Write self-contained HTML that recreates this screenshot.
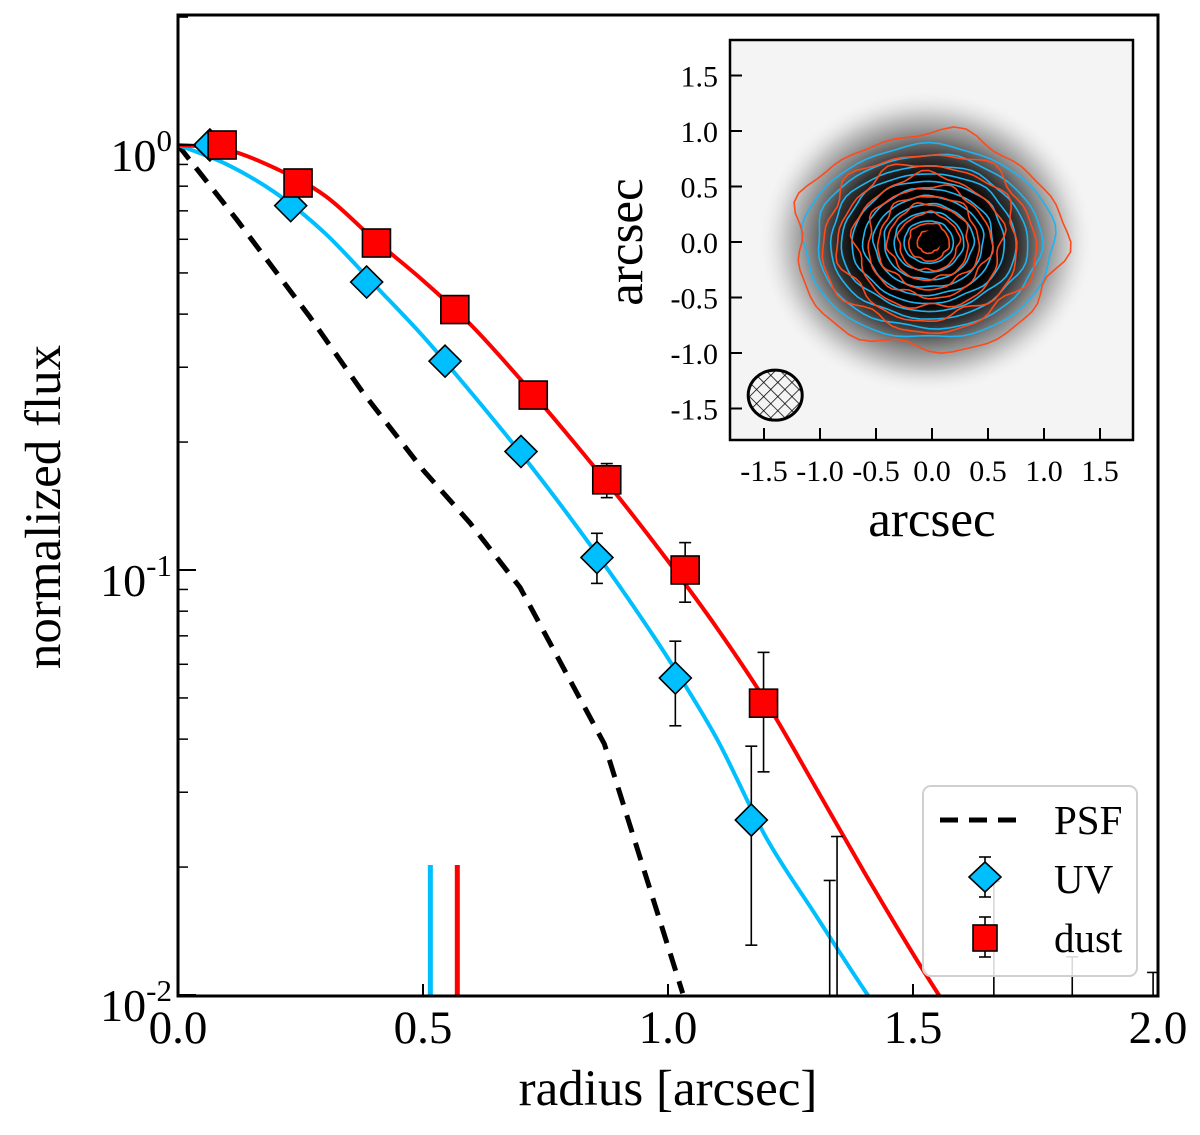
<!DOCTYPE html>
<html><head><meta charset="utf-8"><style>
html,body{margin:0;padding:0;background:#fff}
svg{display:block;font-family:"Liberation Serif",serif}
</style></head><body>
<svg id="chart" width="1200" height="1135" viewBox="0 0 1200 1135">
<defs>
<clipPath id="mainClip"><rect x="178" y="15" width="980" height="981"/></clipPath>
<clipPath id="insetClip"><rect x="730" y="40" width="403" height="400"/></clipPath>
<radialGradient id="blob" cx="0.5" cy="0.5" r="0.5">
<stop offset="0" stop-color="#000"/><stop offset="0.4" stop-color="#000"/>
<stop offset="0.55" stop-color="#333"/><stop offset="0.7" stop-color="#888"/>
<stop offset="0.85" stop-color="#cfcfcf"/>
<stop offset="1" stop-color="#f4f4f4" stop-opacity="0"/></radialGradient>
<pattern id="hatch" width="10" height="10" patternUnits="userSpaceOnUse" patternTransform="rotate(45)">
<path d="M0 0H10M0 0V10" stroke="#000" stroke-width="1.5"/></pattern>
</defs>
<g id="main"></g>
<g id="inset"></g>
</svg>
<script>
// ---- data ----
const uvR = [0.065,0.23,0.385,0.545,0.70,0.855,1.015,1.17];
const uvF = [1.0,0.72,0.476,0.31,0.19,0.107,0.0557,0.0258];
const uvLo = [1.0,0.72,0.476,0.31,0.19,0.093,0.043,0.0131];
const uvHi = [1.0,0.72,0.476,0.31,0.19,0.122,0.068,0.0385];
const dustR = [0.09,0.245,0.405,0.565,0.725,0.875,1.035,1.195];
const dustF = [1.0,0.814,0.588,0.41,0.258,0.163,0.1,0.0486];
const dustLo = [1.0,0.814,0.588,0.41,0.258,0.148,0.084,0.0335];
const dustHi = [1.0,0.814,0.588,0.41,0.258,0.178,0.116,0.064];
const extraR = [1.33,1.345,1.665,1.825,1.99];
const extraHi = [0.0186,0.0236,0.0185,0.0123,0.0113];
const psfR = [0,0.12,0.269,0.378,0.5,0.596,0.698,0.87,1.03];
const psfF = [1.0,0.667,0.394,0.261,0.172,0.129,0.091,0.039,0.0101];
const redR = [0,0.1,0.2,0.3,0.4,0.5,0.6,0.7,0.8,0.9,1.0,1.1,1.2,1.3,1.4,1.5,1.56];
const redF = [1,0.975,0.88,0.76,0.6,0.48,0.375,0.28,0.205,0.148,0.105,0.073,0.049,0.031,0.0195,0.0125,0.0097];
const blueR = [0,0.1,0.2,0.3,0.4,0.5,0.6,0.7,0.8,0.9,1.0,1.1,1.2,1.3,1.4,1.44];
const blueF = [1,0.9,0.77,0.62,0.47,0.355,0.26,0.188,0.133,0.092,0.062,0.040,0.0235,0.0155,0.0103,0.0089];
const halfR = [0.515,0.57];
const xTicks = [0,0.5,1.0,1.5,2.0];
const xTickLabels = ["0.0","0.5","1.0","1.5","2.0"];
const insetTicks = [-1.5,-1.0,-0.5,0,0.5,1.0,1.5];
const insetTickLabels = ["-1.5","-1.0","-0.5","0.0","0.5","1.0","1.5"];

const NS="http://www.w3.org/2000/svg";
function mk(parent,tag,attrs,txt){const e=document.createElementNS(NS,tag);for(const k in attrs)e.setAttribute(k,attrs[k]);if(txt!==undefined)e.textContent=txt;parent.appendChild(e);return e;}
const X = r => 178 + r*490;
const Y = f => 145 - Math.log10(f)*425;
const main=document.getElementById('main');
const plot=mk(main,'g',{'clip-path':'url(#mainClip)'});



function smoothPath(pts){
  let d='M'+pts[0][0].toFixed(1)+' '+pts[0][1].toFixed(1);
  for(let i=0;i<pts.length-1;i++){
    const p0=pts[Math.max(i-1,0)],p1=pts[i],p2=pts[i+1],p3=pts[Math.min(i+2,pts.length-1)];
    const c1=[p1[0]+(p2[0]-p0[0])/6,p1[1]+(p2[1]-p0[1])/6];
    const c2=[p2[0]-(p3[0]-p1[0])/6,p2[1]-(p3[1]-p1[1])/6];
    d+='C'+c1.map(v=>v.toFixed(1)).join(' ')+' '+c2.map(v=>v.toFixed(1)).join(' ')+' '+p2.map(v=>v.toFixed(1)).join(' ');
  }
  return d;
}
function line(rs,fs,attrs,name,smooth){
  const pts=rs.map((r,i)=>[X(r),Y(fs[i])]);
  const d=smooth?smoothPath(pts):pts.map((p,i)=>(i?'L':'M')+p[0].toFixed(1)+' '+p[1].toFixed(1)).join('');
  const p=mk(plot,'path',Object.assign({d:d,fill:'none'},attrs));
  
  
}
line(psfR,psfF,{stroke:'#000','stroke-width':5,'stroke-dasharray':'18 11'},'psf-line',false);
line(blueR,blueF,{stroke:'#00bfff','stroke-width':4},'uv-model-curve',true);
line(redR,redF,{stroke:'#ff0000','stroke-width':4},'dust-model-curve',true);

halfR.forEach((r,i)=>{
  const l=mk(plot,'line',{x1:X(r),x2:X(r),y1:865,y2:997,stroke:i?'#ff0000':'#00bfff','stroke-width':5});
  
  
});

function errbar(x,lo,hi,name){
  const g=mk(plot,'g',{stroke:'#000','stroke-width':1.6});
  
  
  const yl=Math.min(Y(lo),1010), yh=Y(hi);
  mk(g,'line',{x1:x,x2:x,y1:yl,y2:yh});
  mk(g,'line',{x1:x-6,x2:x+6,y1:yh,y2:yh});
  if(Y(lo)<996) mk(g,'line',{x1:x-6,x2:x+6,y1:yl,y2:yl});
}
extraR.forEach((r,i)=>errbar(X(r),0.001,extraHi[i],'upper-error-bar'));
uvR.forEach((r,i)=>{ if(uvHi[i]>uvF[i]) errbar(X(r),uvLo[i],uvHi[i],'uv-error-bar');});
dustR.forEach((r,i)=>{ if(dustHi[i]>dustF[i]) errbar(X(r),dustLo[i],dustHi[i],'dust-error-bar');});
uvR.forEach((r,i)=>{
  const x=X(r),y=Y(uvF[i]),s=16;
  const p=mk(plot,'polygon',{points:`${x},${y-s} ${x+s},${y} ${x},${y+s} ${x-s},${y}`,fill:'#00bfff',stroke:'#000','stroke-width':1.6});
  
  
});
dustR.forEach((r,i)=>{
  const x=X(r),y=Y(dustF[i]),s=14;
  const p=mk(plot,'rect',{x:x-s,y:y-s,width:2*s,height:2*s,fill:'#ff0000',stroke:'#000','stroke-width':1.6});
  
  
});

const frame=mk(main,'rect',{x:178,y:15,width:980,height:981,fill:'none',stroke:'#000','stroke-width':3});


const xa=mk(main,'g',{});


xTicks.forEach((t,i)=>{
  mk(xa,'line',{x1:X(t),x2:X(t),y1:996,y2:984,stroke:'#000','stroke-width':2});
  const tx=mk(xa,'text',{x:X(t),y:1043,'font-size':47,'text-anchor':'middle'},xTickLabels[i]);
  
  
});
const ya=mk(main,'g',{});


[0,-1,-2].forEach(e=>{
  mk(ya,'line',{x1:178,x2:196,y1:Y(Math.pow(10,e)),y2:Y(Math.pow(10,e)),stroke:'#000','stroke-width':2});
  for(let m=2;m<=9&&e>-2;m++){mk(ya,'line',{x1:178,x2:188,y1:Y(m*Math.pow(10,e-1)),y2:Y(m*Math.pow(10,e-1)),stroke:'#000','stroke-width':1.5});}
  const t=mk(ya,'text',{x:172,y:Y(Math.pow(10,e))+26,'font-size':46,'text-anchor':'end'});
  
  
  mk(t,'tspan',{},'10');
  mk(t,'tspan',{dy:-20,'font-size':31},String(e));
});
mk(ya,'line',{x1:178,x2:188,y1:Y(2),y2:Y(2),stroke:'#000','stroke-width':1.5});
const xl=mk(main,'text',{x:668,y:1105,'font-size':51,'text-anchor':'middle'},'radius [arcsec]');


const yl=mk(main,'text',{x:0,y:0,'font-size':51,'text-anchor':'middle',transform:'translate(60,507) rotate(-90)'},'normalized flux');



const lg=mk(main,'g',{});


mk(lg,'rect',{x:923,y:786,width:214,height:190,rx:8,fill:'#fff','fill-opacity':0.85,stroke:'#d0d0d0','stroke-width':2});
mk(lg,'line',{x1:940,x2:1020,y1:820,y2:820,stroke:'#000','stroke-width':5,'stroke-dasharray':'18 11'});
mk(lg,'text',{x:1054,y:834,'font-size':41},'PSF');
mk(lg,'line',{x1:985,x2:985,y1:857,y2:897,stroke:'#000','stroke-width':1.6});
mk(lg,'line',{x1:979,x2:991,y1:857,y2:857,stroke:'#000','stroke-width':1.6});
mk(lg,'line',{x1:979,x2:991,y1:897,y2:897,stroke:'#000','stroke-width':1.6});
mk(lg,'polygon',{points:'985,862 1001,877 985,892 969,877',fill:'#00bfff',stroke:'#000','stroke-width':1.6});
mk(lg,'text',{x:1054,y:893,'font-size':41},'UV');
mk(lg,'line',{x1:985,x2:985,y1:917,y2:957,stroke:'#000','stroke-width':1.6});
mk(lg,'line',{x1:979,x2:991,y1:917,y2:917,stroke:'#000','stroke-width':1.6});
mk(lg,'line',{x1:979,x2:991,y1:957,y2:957,stroke:'#000','stroke-width':1.6});
mk(lg,'rect',{x:973,y:925,width:24,height:26,fill:'#ff0000',stroke:'#000','stroke-width':1.6});
mk(lg,'text',{x:1054,y:952,'font-size':41},'dust');

// ---- inset ----
const IX = a => 932 + a*112;
const IY = a => 242 - a*111;
const ins=document.getElementById('inset');
const img=mk(ins,'g',{'clip-path':'url(#insetClip)'});


mk(img,'rect',{x:730,y:40,width:403,height:400,fill:'#f4f4f4'});
mk(img,'ellipse',{cx:IX(-0.05),cy:IY(0),rx:168,ry:152,fill:'url(#blob)'});
const blueLv=[[1.12,0.87],[1.0,0.78],[0.88,0.69],[0.78,0.62],[0.68,0.55],[0.58,0.48],[0.49,0.41],[0.4,0.34],[0.31,0.27],[0.22,0.19]];
const redLv=[[1.2,0.98],[0.95,0.8],[0.8,0.7],[0.66,0.6],[0.55,0.5],[0.45,0.42],[0.36,0.34],[0.27,0.26],[0.18,0.17],[0.1,0.1]];
function contour(a,b,color,wob,seed,name){
  let d='';
  for(let k=0;k<=72;k++){
    const t=k/72*2*Math.PI;
    const w=1+wob*(Math.sin(5*t+seed)+0.6*Math.sin(9*t+2*seed)+0.4*Math.sin(13*t+seed*3));
    const x=IX(-0.03+a*w*Math.cos(t)), y=IY(0.0+b*w*Math.sin(t));
    d+=(k?'L':'M')+x.toFixed(1)+' '+y.toFixed(1);
  }
  const p=mk(img,'path',{d:d+'Z',fill:'none',stroke:color,'stroke-width':1.6});
  
  
}
blueLv.forEach((l,i)=>contour(l[0],l[1],'#1eb4f0',0.015,i,'uv-contour'));
redLv.forEach((l,i)=>contour(l[0],l[1],'#ff4a1a',0.04,i*1.7+1,'dust-contour'));
mk(img,'circle',{cx:IX(0),cy:IY(0.02),r:10,fill:'#000'});
const beam=mk(ins,'ellipse',{cx:IX(-1.4),cy:IY(-1.38),rx:27,ry:25,fill:'url(#hatch)',stroke:'#000','stroke-width':3});


const ifr=mk(ins,'rect',{x:730,y:40,width:403,height:400,fill:'none',stroke:'#000','stroke-width':2.5});


insetTicks.forEach((t,i)=>{
  mk(ins,'line',{x1:IX(t),x2:IX(t),y1:440,y2:428,stroke:'#000','stroke-width':2});
  mk(ins,'line',{x1:730,x2:742,y1:IY(t),y2:IY(t),stroke:'#000','stroke-width':2});
  const tx=mk(ins,'text',{x:IX(t),y:481,'font-size':30,'text-anchor':'middle'},insetTickLabels[i]);
  
  
  const ty=mk(ins,'text',{x:718,y:IY(t)+11,'font-size':30,'text-anchor':'end'},insetTickLabels[i]);
  
  
});
const ixl=mk(ins,'text',{x:932,y:536,'font-size':51,'text-anchor':'middle'},'arcsec');


const iyl=mk(ins,'text',{x:0,y:0,'font-size':51,'text-anchor':'middle',transform:'translate(642,242) rotate(-90)'},'arcsec');


</script>
</body></html>
